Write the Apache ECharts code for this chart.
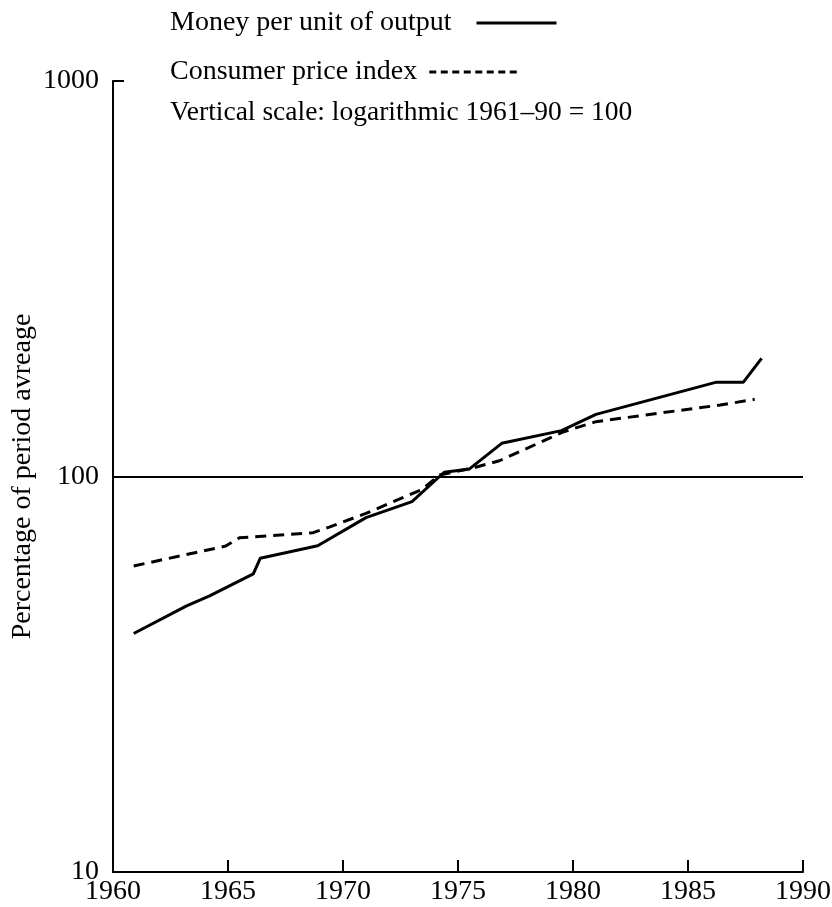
<!DOCTYPE html>
<html>
<head>
<meta charset="utf-8">
<script src="https://cdn.jsdelivr.net/npm/echarts@6/dist/echarts.min.js"></script>
<style>
  html, body { margin: 0; padding: 0; background: #fff; }
  #chart { width: 832px; height: 907px; }
</style>
</head>
<body>
<div id="chart"></div>
<script>
// Money per unit of output, index 1961-90 = 100
const moneyYears  = [1960.9, 1963.2, 1964.2, 1966.1, 1966.4, 1968.9, 1971.0, 1973.0, 1974.4, 1975.5, 1976.9, 1979.5, 1981.0, 1986.2, 1987.4, 1988.2];
const moneyValues = [40.1, 47.1, 49.9, 56.7, 62.1, 66.8, 78.7, 86.4, 102.5, 104.5, 121.3, 130.6, 143.6, 173, 173, 199];

// Consumer price index, 1961-90 = 100
const cpiYears  = [1960.9, 1964.9, 1965.5, 1968.7, 1969.4, 1971.0, 1973.4, 1974.2, 1975.7, 1976.8, 1979.6, 1981.0, 1983.9, 1986.4, 1987.9];
const cpiValues = [59.4, 66.7, 70.0, 72.1, 74.5, 80.7, 92.5, 100.9, 105.3, 109.6, 129.8, 137.6, 145, 151.6, 156.7];

const xTicks = { min: 1960, max: 1990, step: 5 };
const yTicks = { min: 10, max: 1000 };

const SERIF = '"Liberation Serif", "DejaVu Serif", serif';
const INK = '#000';
const FS = 28;

const pairs = (xs, ys) => xs.map((x, i) => [x, ys[i]]);

// legend keys: a solid bar and a row of short dashes
const solidKey = 'path://M0,0H80V3H0Z';
const dashKey = 'path://' + Array.from({ length: 8 }, (_, i) =>
  'M' + (i * 11.5) + ',0h7v3h-7Z').join('');

const chart = echarts.init(document.getElementById('chart'), null, { renderer: 'canvas' });

chart.setOption({
  backgroundColor: '#fff',
  animation: false,
  textStyle: { fontFamily: SERIF, color: INK },
  title: {
    text: 'Vertical scale: logarithmic 1961\u201390 = 100',
    left: 170,
    top: 99,
    padding: 0,
    textStyle: { fontFamily: SERIF, fontSize: 27.5, fontWeight: 'normal', color: INK }
  },
  legend: [
    {
      data: [{ name: 'Money per unit of output', icon: solidKey }],
      left: 170,
      top: 9,
      padding: 0,
      align: 'right',
      itemWidth: 80,
      itemHeight: 3,
      textStyle: { fontFamily: SERIF, fontSize: FS, color: INK, padding: [0, 20, 0, 0] },
      itemStyle: { color: INK, borderWidth: 0 },
      selectedMode: false
    },
    {
      data: [{ name: 'Consumer price index', icon: dashKey }],
      left: 170,
      top: 58,
      padding: 0,
      align: 'right',
      itemWidth: 87.5,
      itemHeight: 3,
      textStyle: { fontFamily: SERIF, fontSize: FS, color: INK, padding: [0, 7, 0, 0] },
      itemStyle: { color: INK, borderWidth: 0 },
      selectedMode: false
    }
  ],
  grid: { left: 113, right: 29, top: 81, bottom: 35, containLabel: false, outerBoundsMode: 'none' },
  xAxis: {
    type: 'value',
    min: xTicks.min,
    max: xTicks.max,
    interval: xTicks.step,
    axisLine: { lineStyle: { color: INK, width: 2 } },
    axisTick: { show: true, inside: true, length: 12, lineStyle: { color: INK, width: 2 } },
    splitLine: { show: false },
    axisLabel: { fontFamily: SERIF, fontSize: FS, color: INK, margin: 6, formatter: v => String(v) }
  },
  yAxis: {
    type: 'log',
    logBase: 10,
    min: yTicks.min,
    max: yTicks.max,
    name: 'Percentage of period avreage',
    nameLocation: 'middle',
    nameRotate: 90,
    nameGap: 76,
    nameMoveOverlap: false,
    nameTextStyle: { fontFamily: SERIF, fontSize: FS, color: INK },
    axisLine: { lineStyle: { color: INK, width: 2 } },
    axisTick: { show: true, inside: true, length: 11, lineStyle: { color: INK, width: 2 } },
    minorTick: { show: false },
    splitLine: { show: false },
    axisLabel: { fontFamily: SERIF, fontSize: FS, color: INK, margin: 14, formatter: v => String(Math.round(v)) }
  },
  series: [
    {
      name: 'Money per unit of output',
      type: 'line',
      data: pairs(moneyYears, moneyValues),
      symbol: 'none',
      lineStyle: { color: INK, width: 3, type: 'solid' },
      itemStyle: { color: INK },
      z: 3,
      markLine: {
        silent: true,
        symbol: 'none',
        label: { show: false },
        lineStyle: { color: INK, width: 2, type: 'solid' },
        data: [{ yAxis: 100 }],
        z: 1
      }
    },
    {
      name: 'Consumer price index',
      type: 'line',
      data: pairs(cpiYears, cpiValues),
      symbol: 'none',
      lineStyle: { color: INK, width: 3, type: [11, 7] },
      itemStyle: { color: INK },
      z: 2
    }
  ]
});
</script>
</body>
</html>
